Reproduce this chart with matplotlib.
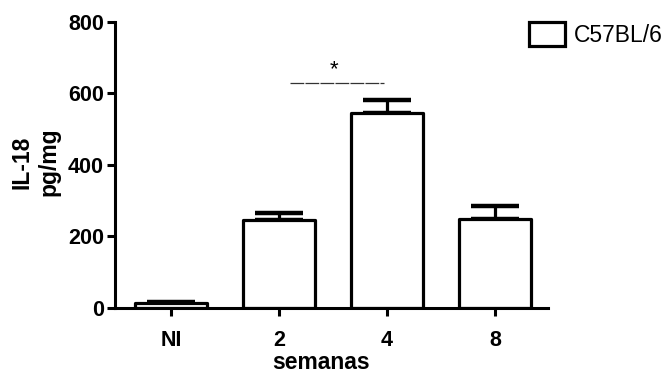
import matplotlib
matplotlib.use("Agg")
import matplotlib.pyplot as plt
import numpy as np

categories = ["NI", "2", "4", "8"]
means = [15, 246, 546, 248]
errors = [3, 20, 36, 37]
yticks = [0, 200, 400, 600, 800]
series_name = "C57BL/6"
sig_label = "*"
sig_y = 630
sig_from, sig_to = 1.1, 1.97

plt.rcParams['font.family'] = ['Liberation Sans', 'DejaVu Sans']

fig = plt.figure(figsize=(6.71, 3.76), dpi=100)
ax = fig.add_axes([0.1714, 0.1809, 0.6453, 0.7606])

x = np.arange(len(categories))
lw = 2.3
bars = ax.bar(x, means, width=0.67, facecolor='white', edgecolor='black',
              linewidth=lw, joinstyle='round', label=series_name, zorder=2)
ax.errorbar(x, means, yerr=[np.zeros(len(errors)), errors], fmt='none',
            ecolor='black', elinewidth=lw, capsize=17, capthick=3.2, zorder=1)

ax.plot([sig_from, sig_to], [sig_y, sig_y], color='#333333', lw=0.9,
        linestyle=(0, (11, 1)))
ax.text((sig_from + sig_to) / 2 - 0.03, sig_y + 8, sig_label, ha='center', va='bottom',
        fontsize=16, color='black')

ax.set_xlim(-0.52, 3.49)
ax.set_ylim(0, 800)
ax.set_yticks(yticks)
ax.set_xticks(x)
ax.set_xticklabels(categories)
for s in ['top', 'right']:
    ax.spines[s].set_visible(False)
for s in ['left', 'bottom']:
    ax.spines[s].set_linewidth(2.2)
ax.tick_params(axis='both', width=2.2, length=6, labelsize=15.5)
ax.tick_params(axis='y', pad=2)
ax.tick_params(axis='x', pad=10)
for lab in ax.get_xticklabels() + ax.get_yticklabels():
    lab.set_fontweight('bold')

ax.set_xlabel("semanas", fontsize=16.5, fontweight='bold', labelpad=0)
ax.xaxis.label.set_x(0.476)
ax.set_ylabel("IL-18\npg/mg", fontsize=16.5, fontweight='bold', labelpad=5,
              linespacing=1.25)
ax.yaxis.label.set_y(0.51)

leg = fig.legend(handles=[bars], labels=[series_name], loc='upper left',
                 bbox_to_anchor=(0.789, 0.942), frameon=False, fontsize=16.5,
                 handlelength=1.55, handleheight=1.25, handletextpad=0.4,
                 borderpad=0, borderaxespad=0)

fig.savefig("out.png", dpi=100)
